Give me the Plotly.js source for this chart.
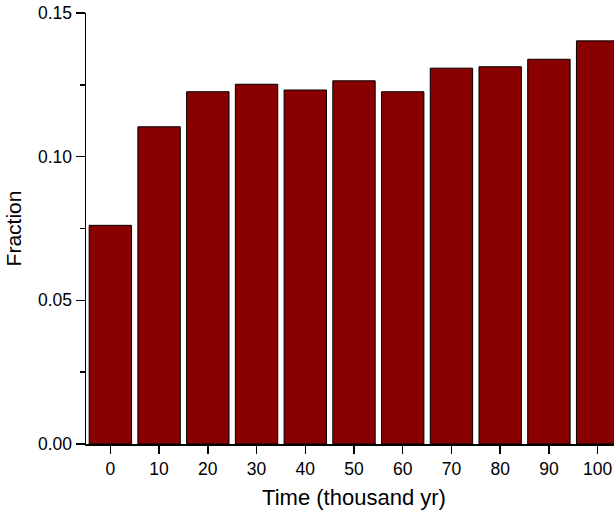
<!DOCTYPE html>
<html>
<head>
<meta charset="utf-8">
<script src="https://cdn.plot.ly/plotly-3.0.1.min.js"></script>
<style>
  html, body { margin: 0; padding: 0; width: 614px; height: 515px; overflow: hidden; background: #fff; }
  #chart { width: 630px; height: 515px; }
</style>
</head>
<body>
<div id="chart"></div>
<script>
// Time in thousand years and the fraction at each step
const timeKyr = [0, 10, 20, 30, 40, 50, 60, 70, 80, 90, 100];
const fraction = [0.0761, 0.1104, 0.1226, 0.1252, 0.1232, 0.1264, 0.1226, 0.1308, 0.1313, 0.1339, 0.1403];
const yTicks = [0, 0.05, 0.10, 0.15];
const yTickText = ['0.00', '0.05', '0.10', '0.15'];

const font = { family: '"Liberation Sans", Arial, sans-serif', color: '#000' };

const trace = {
  type: 'bar',
  x: timeKyr,
  y: fraction,
  marker: { color: '#880000', line: { color: '#000', width: 1 } },
  hoverinfo: 'x+y'
};

const layout = {
  width: 630,
  height: 515,
  margin: { l: 86, r: 8, t: 13, b: 71 },
  paper_bgcolor: '#fff',
  plot_bgcolor: '#fff',
  bargap: 0.13,
  showlegend: false,
  font: Object.assign({ size: 17.5 }, font),
  xaxis: {
    range: [-5, 105],
    tickmode: 'array',
    tickvals: timeKyr,
    ticktext: timeKyr.map(String),
    ticks: 'outside',
    ticklen: 8,
    tickwidth: 1.5,
    tickcolor: '#000',
    showline: true,
    linecolor: '#000',
    linewidth: 1.5,
    showgrid: false,
    zeroline: false,
    tickfont: Object.assign({ size: 17.5 }, font),
    title: { text: 'Time (thousand yr)', font: Object.assign({ size: 22 }, font), standoff: 12 },
    automargin: false
  },
  yaxis: {
    range: [0, 0.15],
    tickmode: 'array',
    tickvals: yTicks,
    ticktext: yTickText,
    ticks: 'outside',
    ticklen: 9,
    tickwidth: 1.5,
    tickcolor: '#000',
    minor: { dtick: 0.025, tick0: 0, ticks: 'outside', ticklen: 5, tickwidth: 1.5, tickcolor: '#000', showgrid: false },
    showline: true,
    linecolor: '#000',
    linewidth: 1.5,
    showgrid: false,
    zeroline: false,
    tickfont: Object.assign({ size: 17.5 }, font),
    title: { text: 'Fraction', font: Object.assign({ size: 21 }, font), standoff: 10 },
    automargin: false
  }
};

Plotly.newPlot('chart', [trace], layout, { displayModeBar: false, staticPlot: true });
</script>
</body>
</html>
